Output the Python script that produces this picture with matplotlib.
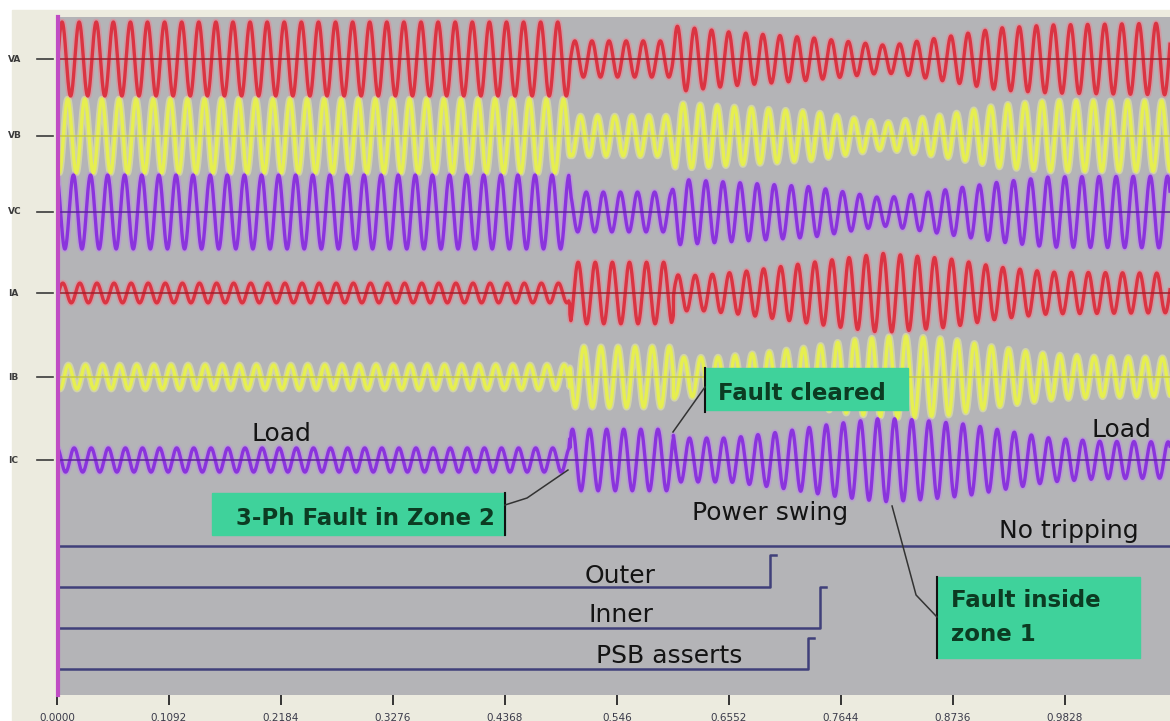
import numpy as np
import matplotlib
matplotlib.use("Agg")
from matplotlib import pyplot as plt
from matplotlib.patches import Rectangle

# --- record data -------------------------------------------------------
f_sys = 60.0          # Hz
t_end = 1.0852        # s, right edge of the record
fault_on = 0.500      # s
fault_off = 0.601     # s

tick_pos = [0.0, 0.1092, 0.2184, 0.3276, 0.4368, 0.546, 0.6552, 0.7644, 0.8736, 0.9828]
tick_txt = ["0.0000", "0.1092", "0.2184", "0.3276", "0.4368",
            "0.546", "0.6552", "0.7644", "0.8736", "0.9828"]

channels = ["VA", "VB", "VC", "IA", "IB", "IC"]

# peak envelopes (voltages pu, currents pu of load)
va_t = [0, 0.499, 0.501, 0.599, 0.603, 0.656, 0.737, 0.805, 0.822, 0.871, 0.919, 0.968, 1.085]
va_pk = [1.0, 1.0, 0.49, 0.49, 0.89, 0.73, 0.57, 0.38, 0.41, 0.62, 0.84, 0.92, 0.97]

vb_t = [0, 0.499, 0.501, 0.599, 0.603, 0.737, 0.805, 0.822, 0.871, 0.919, 0.968, 1.085]
vb_pk = [1.0, 1.0, 0.54, 0.54, 0.89, 0.65, 0.35, 0.41, 0.59, 0.84, 0.95, 0.95]

vc_t = [0, 0.499, 0.501, 0.599, 0.603, 0.737, 0.805, 0.822, 0.871, 0.919, 0.968, 1.085]
vc_pk = [1.0, 1.0, 0.54, 0.54, 0.89, 0.68, 0.38, 0.43, 0.62, 0.81, 0.95, 0.97]

ia_t = [0, 0.499, 0.501, 0.599, 0.603, 0.627, 0.673, 0.737, 0.805, 0.871, 0.919, 0.968, 1.085]
ia_pk = [0.9, 0.9, 2.8, 2.8, 1.65, 1.6, 2.0, 2.8, 3.6, 3.1, 2.35, 1.9, 1.8]

ib_t = [0, 0.499, 0.501, 0.599, 0.603, 0.6435, 0.692, 0.737, 0.773, 0.822, 0.871, 0.919, 0.968, 1.017, 1.085]
ib_pk = [1.1, 1.1, 2.75, 2.75, 1.8, 1.8, 2.25, 2.75, 3.35, 3.75, 3.45, 2.65, 2.05, 1.8, 1.75]

ic_t = [0, 0.499, 0.501, 0.599, 0.603, 0.656, 0.705, 0.754, 0.805, 0.8385, 0.887, 0.919, 0.968, 1.017, 1.085]
ic_pk = [1.1, 1.1, 2.8, 2.8, 2.0, 2.0, 2.55, 3.25, 3.8, 3.65, 3.25, 2.75, 2.0, 1.7, 1.65]

# voltage phase angles (deg), current lag behind voltage (deg)
v_phase = [-106, -226, 14]
lag_load = 15
lag_fault = 70

# digital channels: assertion times (None = never asserts)
dig_names = ["No tripping", "Outer", "Inner", "PSB asserts"]
dig_on = [None, 0.695, 0.744, 0.732]

# --- layout ------------------------------------------------------------
W, H = 1170, 721
x0_px, y0_px, y1_px = 57, 17, 695
base_y = [636, 559, 483, 402, 318, 235]     # trace baselines (px above axis bottom)
v_gain, i_gain = 37, 11
dig_y = [149, 108, 67, 26]
dig_h = [0, 32, 41, 31]

core = ["#da3442", "#e6ef50", "#8a34dc", "#da3442", "#e6ef50", "#8a34dc"]
halo = ["#ee8090", "#f0f59a", "#bf86ee", "#ee8090", "#f0f59a", "#bf86ee"]
midc = ["#9c1f2d", "#c4c844", "#5b2298", "#9c1f2d", "#c4c844", "#5b2298"]
box_col = "#3fd29b"
box_txt = "#0c3b22"

fig = plt.figure(figsize=(W / 100, H / 100), dpi=100, facecolor="white")
fig.patches.append(Rectangle((12 / W, 0), 1, 1 - 10 / H, transform=fig.transFigure,
                             color="#ecebdf", zorder=-5))

ax = fig.add_axes([x0_px / W, 1 - y1_px / H, (W - x0_px) / W, (y1_px - y0_px) / H])
ax.set_zorder(2)
ax.set_facecolor("#b4b4b7")
for s in ax.spines.values():
    s.set_visible(False)
ax.set_xlim(0, t_end)
ax.set_ylim(0, y1_px - y0_px)
ax.set_yticks([])

t = np.linspace(0, t_end, 30000)
w = 2 * np.pi * f_sys
lag = np.where((t > fault_on) & (t < fault_off), lag_fault, lag_load)

env_t = [va_t, vb_t, vc_t, ia_t, ib_t, ic_t]
env_pk = [va_pk, vb_pk, vc_pk, ia_pk, ib_pk, ic_pk]

for k in range(6):
    env = np.interp(t, env_t[k], env_pk[k])
    if k < 3:
        sig = v_gain * env * np.cos(w * t + np.radians(v_phase[k]))
    else:
        sig = i_gain * env * np.cos(w * t + np.radians(v_phase[k - 3] - lag))
    y = base_y[k] + sig
    ax.plot(t, y, color=halo[k], lw=4.8, alpha=0.5, zorder=2, solid_capstyle="round")
    ax.plot(t, y, color=core[k], lw=2.4, zorder=3)
    ax.axhline(base_y[k], color=midc[k], lw=1.1, zorder=4)
    # channel name at the left
    fig.text(8 / W, 1 - (y1_px - base_y[k]) / H, channels[k], fontsize=6.5,
             color="#3a3a3a", va="center", ha="left", fontweight="bold")
    fig.lines.append(plt.Line2D([37 / W, 53 / W], [1 - (y1_px - base_y[k]) / H] * 2,
                                transform=fig.transFigure, color="#3a3a3a", lw=1.2))

# digital traces
for k in range(4):
    if dig_on[k] is None:
        ax.plot([0, t_end], [dig_y[k]] * 2, color="#40407a", lw=1.8, zorder=3)
    else:
        tx = [0, dig_on[k], dig_on[k], dig_on[k] + 0.006]
        ty = [dig_y[k], dig_y[k], dig_y[k] + dig_h[k], dig_y[k] + dig_h[k]]
        ax.plot(tx, ty, color="#40407a", lw=1.8, zorder=3)

# left magenta cursor
ax.axvline(0.0012, color="#c04cc4", lw=3.0, zorder=5, clip_on=False)

# x ticks
ax.set_xticks(tick_pos)
ax.set_xticklabels(tick_txt)
ax.tick_params(axis="x", direction="out", length=7, width=1.4, color="#333333",
               pad=6, labelsize=7.5, labelcolor="#3a3a4a")

# annotations
lbl = dict(fontsize=18, color="#141414", ha="center", va="baseline", zorder=8)
ax.text(0.2184, 254, "Load", **lbl)
ax.text(1.0374, 258, "Load", **lbl)
ax.text(0.6952, 175, "Power swing", **lbl)
ax.text(0.9867, 157, "No tripping", **lbl)
ax.text(0.549, 112, "Outer", **lbl)
ax.text(0.550, 73, "Inner", **lbl)
ax.text(0.5967, 32, "PSB asserts", **lbl)

bt = dict(fontsize=16.5, color=box_txt, fontweight="bold", va="baseline", zorder=10)

ax.add_patch(Rectangle((0.1511, 160), 0.4368 - 0.1511, 42, color=box_col, zorder=9))
ax.plot([0.4368, 0.4368], [160, 202], color="#111111", lw=1.5, zorder=10)
ax.plot([0.4368, 0.4583, 0.4982], [190, 197, 225], color="#333333", lw=1.1, zorder=10)
ax.text(0.4271, 170, "3-Ph Fault in Zone 2", ha="right", **bt)

ax.add_patch(Rectangle((0.6318, 285), 0.8298 - 0.6318, 42, color=box_col, zorder=9))
ax.plot([0.6318, 0.6318], [283, 327], color="#111111", lw=1.5, zorder=10)
ax.plot([0.6318, 0.6006], [308, 263], color="#333333", lw=1.1, zorder=10)
ax.text(0.6445, 295, "Fault cleared", ha="left", **bt)

ax.add_patch(Rectangle((0.858, 37), 1.056 - 0.858, 81, color=box_col, zorder=9))
ax.plot([0.858, 0.858], [37, 118], color="#111111", lw=1.5, zorder=10)
ax.plot([0.858, 0.8376, 0.8142], [78, 100, 189], color="#333333", lw=1.1, zorder=10)
ax.text(0.8717, 88, "Fault inside", ha="left", **bt)
ax.text(0.8717, 54, "zone 1", ha="left", **bt)

fig.savefig("out.png", dpi=100, facecolor=fig.get_facecolor())
